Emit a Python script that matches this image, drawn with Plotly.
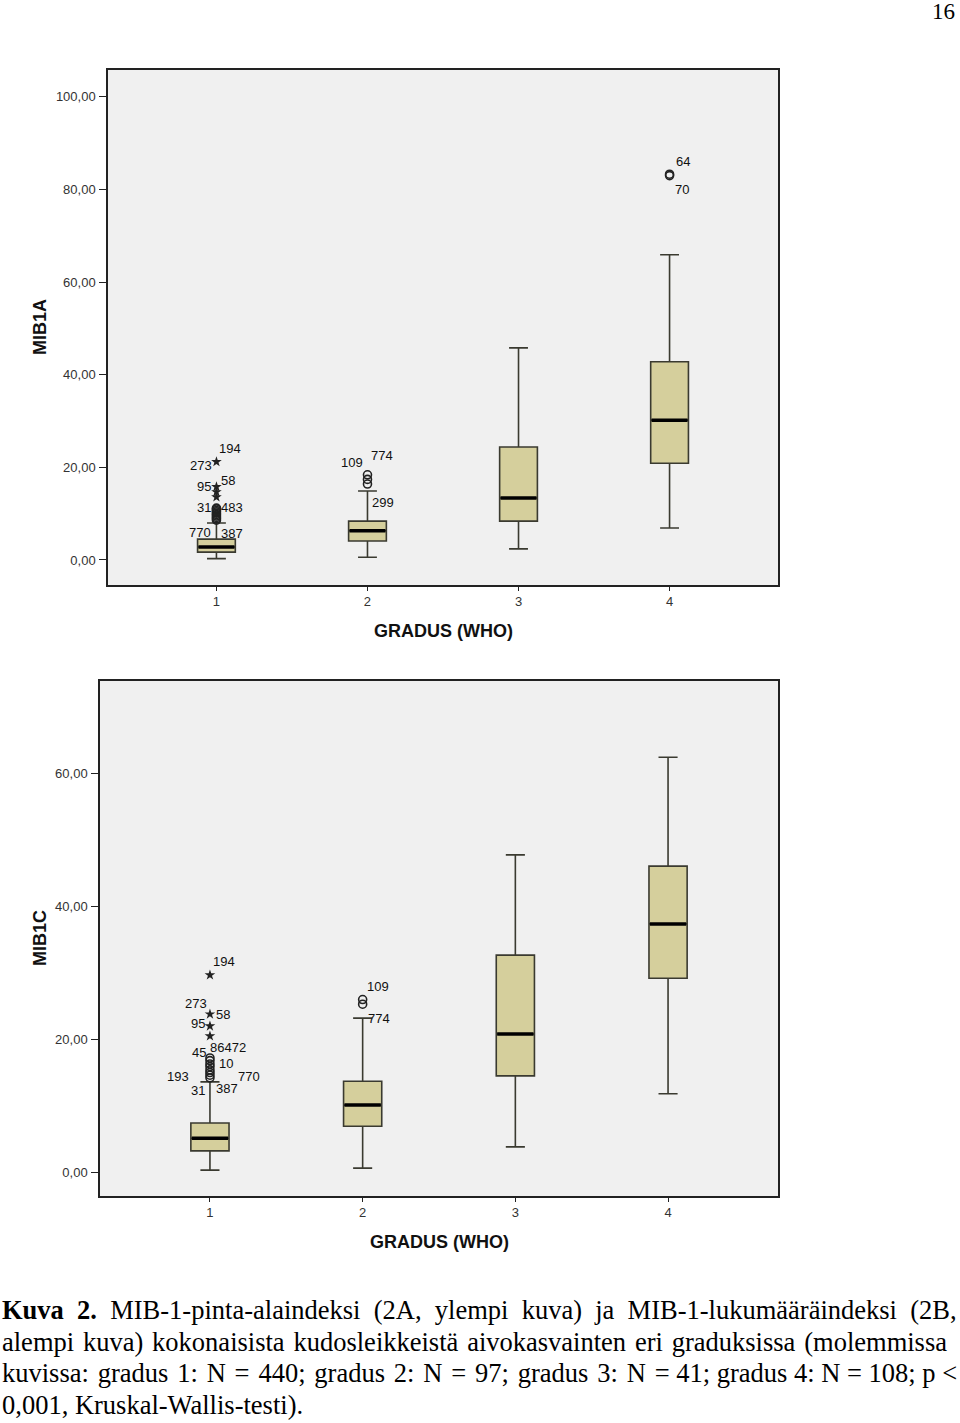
import plotly.graph_objects as go

W, H = 960, 1423

# ---------------- DATA ----------------
groups = [1, 2, 3, 4]
group_ticktext = ["1", "2", "3", "4"]

# Figure 2A: MIB1A
a_low = [0.3, 0.6, 2.4, 6.9]
a_q1 = [1.7, 4.1, 8.4, 20.9]
a_median = [2.8, 6.3, 13.4, 30.2]
a_q3 = [4.5, 8.4, 24.4, 42.8]
a_high = [8.0, 14.9, 45.8, 65.9]
a_tickvals = [0, 20, 40, 60, 80, 100]
a_ticktext = ["0,00", "20,00", "40,00", "60,00", "80,00", "100,00"]

a_circ_group = [1, 1, 1, 1, 1, 1, 1, 1, 1, 1, 2, 2, 2, 4, 4]
a_circ_value = [8.6, 8.9, 9.2, 9.5, 9.8, 10.1, 10.4, 10.7, 11.0, 11.2,
                16.4, 17.4, 18.4, 83.0, 83.3]
a_star_group = [1, 1, 1, 1]
a_star_value = [13.6, 14.7, 15.8, 21.2]

# outlier labels: (text, group, value it belongs to)
a_lab_text = ["194", "273", "95", "58", "31", "483", "770", "387",
              "109", "774", "299", "64", "70"]
a_lab_group = [1, 1, 1, 1, 1, 1, 1, 1, 2, 2, 2, 4, 4]
a_lab_value = [21.2, 21.2, 15.8, 15.8, 11.2, 11.2, 8.6, 8.6,
               18.4, 18.4, 16.4, 83.2, 83.2]

# Figure 2B: MIB1C
c_low = [0.3, 0.6, 3.8, 11.8]
c_q1 = [3.2, 6.9, 14.5, 29.2]
c_median = [5.1, 10.1, 20.8, 37.4]
c_q3 = [7.4, 13.7, 32.7, 46.1]
c_high = [13.6, 23.2, 47.8, 62.5]
c_tickvals = [0, 20, 40, 60]
c_ticktext = ["0,00", "20,00", "40,00", "60,00"]

c_circ_group = [1, 1, 1, 1, 1, 1, 1, 1, 2, 2]
c_circ_value = [14.2, 14.6, 15.0, 15.4, 15.9, 16.3, 16.8, 17.2, 25.3, 26.0]
c_star_group = [1, 1, 1, 1]
c_star_value = [20.5, 22.0, 23.8, 29.7]

c_lab_text = ["194", "273", "58", "95", "45", "86472", "10", "193", "770",
              "31", "387", "109", "774"]
c_lab_group = [1, 1, 1, 1, 1, 1, 1, 1, 1, 1, 1, 2, 2]
c_lab_value = [29.7, 23.8, 23.8, 22.0, 17.2, 17.2, 17.2, 14.2, 14.2,
               14.2, 14.2, 26.0, 26.0]

caption_lines = [
    "<b>Kuva 2.</b> MIB-1-pinta-alaindeksi (2A, ylempi kuva) ja MIB-1-lukumääräindeksi (2B,",
    "alempi kuva) kokonaisista kudosleikkeistä aivokasvainten eri graduksissa (molemmissa",
    "kuvissa: gradus 1: N = 440; gradus 2: N = 97; gradus 3: N = 41; gradus 4: N = 108; p <",
    "0,001, Kruskal-Wallis-testi).",
]
page_number = "16"

# ---------------- STYLE ----------------
a_lab_dx = [14, -15, -12, 12, -12, 16, -16, 16, -15, 15, 16, 13, 12]
a_lab_dy = [-13, 4, 0, -6, -1, -1, 12, 13, -12, -19, 18, -13, 15]
c_lab_dx = [14, -14, 13, -12, -11, 18, 16, -32, 39, -12, 17, 15, 16]
c_lab_dy = [-13, -11, 0, -3, -5, -10, 6, -1, -1, 13, 11, -13, 19]

# extra inter-word spacing (char, number of gaps widened) imitating justification
caption_gap = [("\u2005", 99), ("\u200a", 99), ("\u200a", 14), ("", 0)]

BOX_FILL = "#D5CF9C"
BOX_LINE = "#3a3a30"
PLOT_BG = "#F0F0F0"
BOXW = 0.25

fig = go.Figure()


def px_to_paper_x(px):
    return px / W


def px_to_paper_y(py):
    return 1 - py / H


panels = [
    dict(xa="x", ya="y", low=a_low, q1=a_q1, med=a_median, q3=a_q3, high=a_high,
         cg=a_circ_group, cv=a_circ_value, sg=a_star_group, sv=a_star_value,
         lt=a_lab_text, lg=a_lab_group, lv=a_lab_value, ldx=a_lab_dx, ldy=a_lab_dy),
    dict(xa="x2", ya="y2", low=c_low, q1=c_q1, med=c_median, q3=c_q3, high=c_high,
         cg=c_circ_group, cv=c_circ_value, sg=c_star_group, sv=c_star_value,
         lt=c_lab_text, lg=c_lab_group, lv=c_lab_value, ldx=c_lab_dx, ldy=c_lab_dy),
]

for p in panels:
    fig.add_trace(go.Box(
        x=groups, q1=p["q1"], median=p["med"], q3=p["q3"],
        lowerfence=p["low"], upperfence=p["high"],
        boxpoints=False, width=BOXW, whiskerwidth=0.5,
        fillcolor=BOX_FILL, line=dict(color=BOX_LINE, width=1.6),
        xaxis=p["xa"], yaxis=p["ya"], showlegend=False, hoverinfo="skip",
    ))
    mx, my = [], []
    for g, m in zip(groups, p["med"]):
        mx += [g - BOXW / 2 + 0.006, g + BOXW / 2 - 0.006, None]
        my += [m, m, None]
    fig.add_trace(go.Scatter(x=mx, y=my, mode="lines",
                             line=dict(color="black", width=3.5),
                             xaxis=p["xa"], yaxis=p["ya"], showlegend=False,
                             hoverinfo="skip"))
    fig.add_trace(go.Scatter(x=p["cg"], y=p["cv"], mode="markers",
                             marker=dict(symbol="circle-open", size=8,
                                         color="#222", line=dict(width=1.6)),
                             xaxis=p["xa"], yaxis=p["ya"], showlegend=False,
                             hoverinfo="skip"))
    fig.add_trace(go.Scatter(x=p["sg"], y=p["sv"], mode="markers",
                             marker=dict(symbol="star", size=8, color="#222"),
                             xaxis=p["xa"], yaxis=p["ya"], showlegend=False,
                             hoverinfo="skip"))
    for t, g, v, dx, dy in zip(p["lt"], p["lg"], p["lv"], p["ldx"], p["ldy"]):
        fig.add_annotation(x=g, y=v, xref=p["xa"], yref=p["ya"], text=t,
                           showarrow=False, xshift=dx, yshift=-dy,
                           font=dict(family="Arial, Liberation Sans", size=13,
                                     color="#111"))

tickfont = dict(family="Arial, Liberation Sans", size=13, color="#333")
axis_common = dict(
    showgrid=False, zeroline=False, showline=True, linecolor="#222",
    linewidth=1.5, mirror=True, ticks="outside", tickwidth=1.3,
    tickcolor="#222", tickfont=tickfont,
)

fig.update_layout(
    width=W, height=H, margin=dict(l=0, r=0, t=0, b=0),
    paper_bgcolor="white", plot_bgcolor=PLOT_BG,
    xaxis=dict(domain=[px_to_paper_x(108), px_to_paper_x(778)],
               range=[0.282, 4.718], tickvals=groups, ticktext=group_ticktext,
               anchor="y", ticklen=4, **axis_common),
    yaxis=dict(domain=[px_to_paper_y(585), px_to_paper_y(70)],
               range=[-5.4, 105.8], tickvals=a_tickvals, ticktext=a_ticktext,
               anchor="x", ticklen=7, ticklabelstandoff=1, **axis_common),
    xaxis2=dict(domain=[px_to_paper_x(100), px_to_paper_x(778)],
                range=[0.28, 4.72], tickvals=groups, ticktext=group_ticktext,
                anchor="y2", ticklen=4, **axis_common),
    yaxis2=dict(domain=[px_to_paper_y(1196), px_to_paper_y(681)],
                range=[-3.6, 74.0], tickvals=c_tickvals, ticktext=c_ticktext,
                anchor="x2", ticklen=7, ticklabelstandoff=1, **axis_common),
)

title_font = dict(family="Arial, Liberation Sans", size=18, color="#111")
for tx, ty, txt, ang in [(40, 327, "<b>MIB1A</b>", -90),
                         (443, 631, "<b>GRADUS (WHO)</b>", 0),
                         (40, 938, "<b>MIB1C</b>", -90),
                         (439, 1242, "<b>GRADUS (WHO)</b>", 0)]:
    fig.add_annotation(x=px_to_paper_x(tx), y=px_to_paper_y(ty), xref="paper", yref="paper",
                       xanchor="center", yanchor="middle", text=txt, textangle=ang,
                       showarrow=False, font=title_font)

serif_family = "Liberation Serif, Times New Roman, serif"
serif = dict(family=serif_family, size=26.5, color="black")
fig.add_annotation(x=px_to_paper_x(957), y=1, xref="paper", yref="paper",
                   xanchor="right", yanchor="top", text=page_number, yshift=3,
                   showarrow=False, font=dict(family=serif_family, size=23, color="black"))


def widen(line, ch, n):
    if not ch:
        return line
    parts = line.split(" ")
    out = parts[0]
    for k, w in enumerate(parts[1:]):
        out += (" " + ch if k < n else " ") + w
    return out


for i, line in enumerate(caption_lines):
    ch, n = caption_gap[i]
    fig.add_annotation(x=0, y=px_to_paper_y(1310 + i * 31.7), xref="paper", yref="paper",
                       xanchor="left", yanchor="middle", text=widen(line, ch, n),
                       showarrow=False, font=serif)

fig.write_html("out.html", config={"displayModeBar": False},
               post_script="document.body.style.margin='0';")
